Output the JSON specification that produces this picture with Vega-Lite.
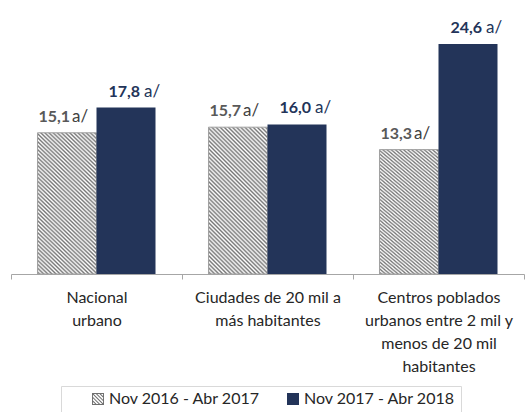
{
  "$schema": "https://vega.github.io/schema/vega-lite/v6.json",
  "width": 513,
  "height": 274,
  "autosize": "none",
  "padding": {"left": 11, "top": 0, "right": 2, "bottom": 138},
  "background": "#ffffff",
  "config": {
    "view": {"stroke": null},
    "font": "Lato",
    "locale": {"number": {"decimal": ",", "thousands": ".", "grouping": [3], "currency": ["", ""]}}
  },
  "data": {
    "values": [
      {"zona": "Nacional urbano", "periodo": "Nov 2016 - Abr 2017", "valor": 15.1},
      {"zona": "Nacional urbano", "periodo": "Nov 2017 - Abr 2018", "valor": 17.8},
      {"zona": "Ciudades de 20 mil a más habitantes", "periodo": "Nov 2016 - Abr 2017", "valor": 15.7},
      {"zona": "Ciudades de 20 mil a más habitantes", "periodo": "Nov 2017 - Abr 2018", "valor": 16.0},
      {"zona": "Centros poblados urbanos entre 2 mil y menos de 20 mil habitantes", "periodo": "Nov 2016 - Abr 2017", "valor": 13.3},
      {"zona": "Centros poblados urbanos entre 2 mil y menos de 20 mil habitantes", "periodo": "Nov 2017 - Abr 2018", "valor": 24.6}
    ]
  },
  "encoding": {
    "x": {
      "field": "zona", "type": "nominal", "sort": null,
      "scale": {"paddingInner": 0, "paddingOuter": 0},
      "axis": {
        "title": null,
        "tickBand": "extent",
        "domainColor": "#a6a6a6",
        "tickColor": "#a6a6a6",
        "tickSize": 5,
        "labelAngle": 0,
        "labelFont": "Lato",
        "labelFontSize": 16,
        "labelColor": "#262626",
        "labelLineHeight": 23,
        "labelPadding": 10,
        "labelLimit": 220,
        "labelExpr": "datum.label == 'Nacional urbano' ? ['Nacional','urbano'] : datum.label == 'Ciudades de 20 mil a más habitantes' ? ['Ciudades de 20 mil a','más habitantes'] : datum.label == 'Centros poblados urbanos entre 2 mil y menos de 20 mil habitantes' ? ['Centros poblados','urbanos entre 2 mil y','menos de 20 mil','habitantes'] : ''"
      }
    },
    "xOffset": {"field": "periodo", "type": "nominal", "sort": null, "scale": {"paddingInner": 0, "paddingOuter": 0.449}},
    "y": {"field": "valor", "type": "quantitative", "stack": null, "scale": {"domain": [0, 29.3], "nice": false, "zero": true}, "axis": null}
  },
  "layer": [
    {
      "mark": {"type": "bar", "strokeWidth": 1},
      "encoding": {
        "fill": {
          "condition": {
            "test": "datum.periodo === 'Nov 2016 - Abr 2017'",
            "value": {
              "gradient": "linear", "x1": 0, "y1": 1, "x2": 0.483, "y2": -0.207,
              "stops": [
                {"offset": 0, "color": "#ffffff"}, {"offset": 0.01, "color": "#777777"}, {"offset": 0.02, "color": "#ffffff"}, {"offset": 0.03, "color": "#777777"}, {"offset": 0.04, "color": "#ffffff"},
                {"offset": 0.05, "color": "#777777"}, {"offset": 0.06, "color": "#ffffff"}, {"offset": 0.07, "color": "#777777"}, {"offset": 0.08, "color": "#ffffff"}, {"offset": 0.09, "color": "#777777"},
                {"offset": 0.10, "color": "#ffffff"}, {"offset": 0.11, "color": "#777777"}, {"offset": 0.12, "color": "#ffffff"}, {"offset": 0.13, "color": "#777777"}, {"offset": 0.14, "color": "#ffffff"},
                {"offset": 0.15, "color": "#777777"}, {"offset": 0.16, "color": "#ffffff"}, {"offset": 0.17, "color": "#777777"}, {"offset": 0.18, "color": "#ffffff"}, {"offset": 0.19, "color": "#777777"},
                {"offset": 0.20, "color": "#ffffff"}, {"offset": 0.21, "color": "#777777"}, {"offset": 0.22, "color": "#ffffff"}, {"offset": 0.23, "color": "#777777"}, {"offset": 0.24, "color": "#ffffff"},
                {"offset": 0.25, "color": "#777777"}, {"offset": 0.26, "color": "#ffffff"}, {"offset": 0.27, "color": "#777777"}, {"offset": 0.28, "color": "#ffffff"}, {"offset": 0.29, "color": "#777777"},
                {"offset": 0.30, "color": "#ffffff"}, {"offset": 0.31, "color": "#777777"}, {"offset": 0.32, "color": "#ffffff"}, {"offset": 0.33, "color": "#777777"}, {"offset": 0.34, "color": "#ffffff"},
                {"offset": 0.35, "color": "#777777"}, {"offset": 0.36, "color": "#ffffff"}, {"offset": 0.37, "color": "#777777"}, {"offset": 0.38, "color": "#ffffff"}, {"offset": 0.39, "color": "#777777"},
                {"offset": 0.40, "color": "#ffffff"}, {"offset": 0.41, "color": "#777777"}, {"offset": 0.42, "color": "#ffffff"}, {"offset": 0.43, "color": "#777777"}, {"offset": 0.44, "color": "#ffffff"},
                {"offset": 0.45, "color": "#777777"}, {"offset": 0.46, "color": "#ffffff"}, {"offset": 0.47, "color": "#777777"}, {"offset": 0.48, "color": "#ffffff"}, {"offset": 0.49, "color": "#777777"},
                {"offset": 0.50, "color": "#ffffff"}, {"offset": 0.51, "color": "#777777"}, {"offset": 0.52, "color": "#ffffff"}, {"offset": 0.53, "color": "#777777"}, {"offset": 0.54, "color": "#ffffff"},
                {"offset": 0.55, "color": "#777777"}, {"offset": 0.56, "color": "#ffffff"}, {"offset": 0.57, "color": "#777777"}, {"offset": 0.58, "color": "#ffffff"}, {"offset": 0.59, "color": "#777777"},
                {"offset": 0.60, "color": "#ffffff"}, {"offset": 0.61, "color": "#777777"}, {"offset": 0.62, "color": "#ffffff"}, {"offset": 0.63, "color": "#777777"}, {"offset": 0.64, "color": "#ffffff"},
                {"offset": 0.65, "color": "#777777"}, {"offset": 0.66, "color": "#ffffff"}, {"offset": 0.67, "color": "#777777"}, {"offset": 0.68, "color": "#ffffff"}, {"offset": 0.69, "color": "#777777"},
                {"offset": 0.70, "color": "#ffffff"}, {"offset": 0.71, "color": "#777777"}, {"offset": 0.72, "color": "#ffffff"}, {"offset": 0.73, "color": "#777777"}, {"offset": 0.74, "color": "#ffffff"},
                {"offset": 0.75, "color": "#777777"}, {"offset": 0.76, "color": "#ffffff"}, {"offset": 0.77, "color": "#777777"}, {"offset": 0.78, "color": "#ffffff"}, {"offset": 0.79, "color": "#777777"},
                {"offset": 0.80, "color": "#ffffff"}, {"offset": 0.81, "color": "#777777"}, {"offset": 0.82, "color": "#ffffff"}, {"offset": 0.83, "color": "#777777"}, {"offset": 0.84, "color": "#ffffff"},
                {"offset": 0.85, "color": "#777777"}, {"offset": 0.86, "color": "#ffffff"}, {"offset": 0.87, "color": "#777777"}, {"offset": 0.88, "color": "#ffffff"}, {"offset": 0.89, "color": "#777777"},
                {"offset": 0.90, "color": "#ffffff"}, {"offset": 0.91, "color": "#777777"}, {"offset": 0.92, "color": "#ffffff"}, {"offset": 0.93, "color": "#777777"}, {"offset": 0.94, "color": "#ffffff"},
                {"offset": 0.95, "color": "#777777"}, {"offset": 0.96, "color": "#ffffff"}, {"offset": 0.97, "color": "#777777"}, {"offset": 0.98, "color": "#ffffff"}, {"offset": 0.99, "color": "#777777"},
                {"offset": 1, "color": "#ffffff"}
              ]
            }
          },
          "value": "#233459"
        },
        "stroke": {
          "condition": {"test": "datum.periodo === 'Nov 2016 - Abr 2017'", "value": "#a0a0a0"},
          "value": null
        }
      }
    },
    {
      "mark": {"type": "point", "filled": true, "opacity": 0, "size": 144, "strokeWidth": 0},
      "encoding": {
        "color": {
          "field": "periodo", "type": "nominal", "sort": null,
          "scale": {"range": ["#6f6f6f", "#233459"]},
          "legend": {
            "orient": "none", "legendX": 50, "legendY": 386, "direction": "horizontal", "title": null,
            "padding": 5, "strokeColor": "#d9d9d9", "fillColor": "#ffffff",
            "symbolSize": 144, "symbolOffset": 24, "symbolStrokeWidth": 0, "symbolOpacity": 1,
            "labelFont": "Lato", "labelFontSize": 16, "labelColor": "#262626", "labelOffset": 3, "labelLimit": 300,
            "columnPadding": -2,
            "labelExpr": "datum.label == 'Nov 2017 - Abr 2018' ? datum.label + '        ' : datum.label"
          }
        },
        "shape": {
          "field": "periodo", "type": "nominal", "sort": null,
          "scale": {"range": [
            "M-1,-1H1V1H-1Z M-0.84,-0.84V0.84H0.84V-0.84Z M-0.88,-1L1,0.88L1,1L0.88,1L-1,-0.88L-1,-1Z M-1,-0.52L0.52,1L0.28,1L-1,-0.28Z M-1,0.08L-0.08,1L-0.32,1L-1,0.32Z M-0.28,-1L1,0.28L1,0.52L-0.52,-1Z M0.32,-1L1,-0.32L1,-0.08L0.08,-1Z",
            "square"
          ]},
          "legend": {
            "orient": "none", "legendX": 50, "legendY": 386, "direction": "horizontal", "title": null,
            "padding": 5, "strokeColor": "#d9d9d9", "fillColor": "#ffffff",
            "symbolSize": 144, "symbolOffset": 24, "symbolStrokeWidth": 0, "symbolOpacity": 1,
            "labelFont": "Lato", "labelFontSize": 16, "labelColor": "#262626", "labelOffset": 3, "labelLimit": 300,
            "columnPadding": -2,
            "labelExpr": "datum.label == 'Nov 2017 - Abr 2018' ? datum.label + '        ' : datum.label"
          }
        }
      }
    },
    {
      "transform": [{"filter": "datum.periodo === 'Nov 2016 - Abr 2017'"}],
      "mark": {"type": "text", "align": "right", "baseline": "alphabetic", "dx": 3, "dy": -11, "font": "Lato", "fontSize": 16, "fontWeight": "bold", "color": "#595959"},
      "encoding": {"text": {"field": "valor", "type": "quantitative", "format": ".1f"}}
    },
    {
      "transform": [{"filter": "datum.periodo === 'Nov 2016 - Abr 2017'"}],
      "mark": {"type": "text", "align": "left", "baseline": "alphabetic", "dx": 5, "dy": -11, "font": "Lato", "fontSize": 17, "color": "#404040", "text": "a/"},
      "encoding": {}
    },
    {
      "transform": [{"filter": "datum.periodo === 'Nov 2017 - Abr 2018'"}],
      "mark": {"type": "text", "align": "right", "baseline": "alphabetic", "dx": 14, "dy": -11, "font": "Lato", "fontSize": 16, "fontWeight": "bold", "color": "#233459"},
      "encoding": {"text": {"field": "valor", "type": "quantitative", "format": ".1f"}}
    },
    {
      "transform": [{"filter": "datum.periodo === 'Nov 2017 - Abr 2018'"}],
      "mark": {"type": "text", "align": "left", "baseline": "alphabetic", "dx": 18, "dy": -11, "font": "Lato", "fontSize": 17, "color": "#233459", "text": "a/"},
      "encoding": {}
    }
  ]
}
